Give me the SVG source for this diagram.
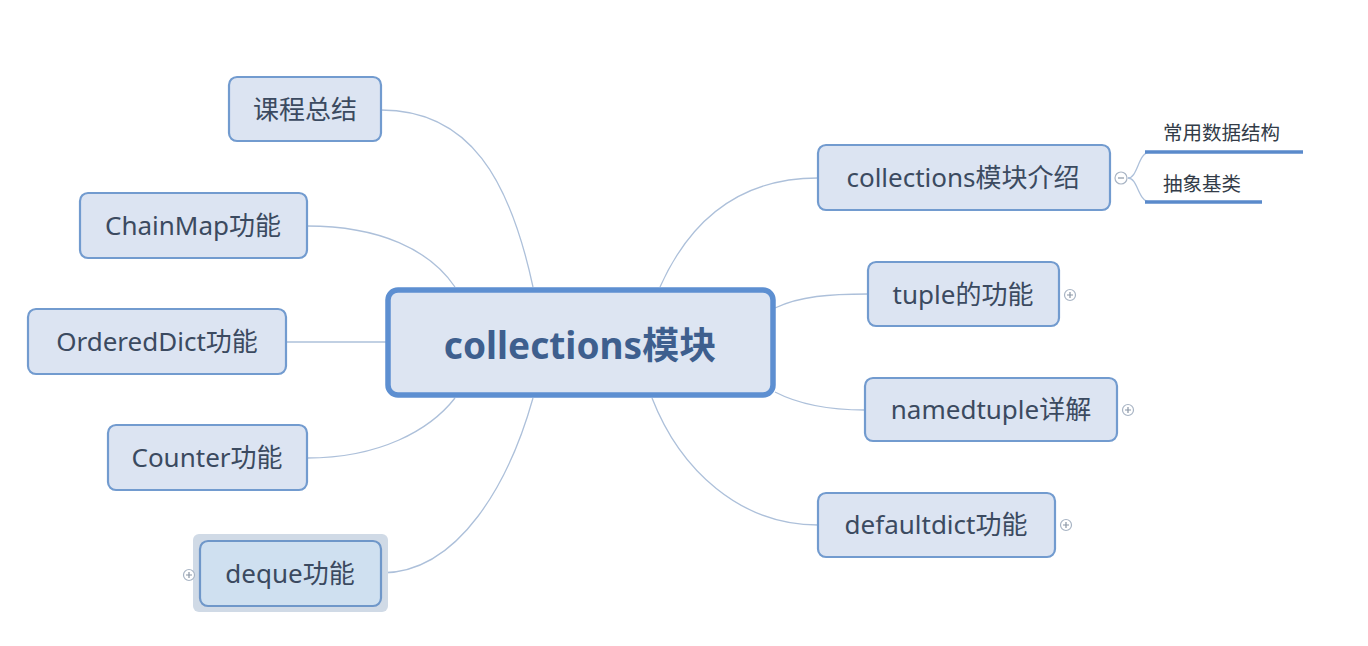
<svg xmlns="http://www.w3.org/2000/svg" width="1368" height="646" viewBox="0 0 1368 646">
<style>
.node{fill:#dce4f2;stroke:#729bcf;stroke-width:2.2}
.t{font-family:"Noto Sans","Noto Sans CJK SC",sans-serif;font-size:26px;fill:#3b4a60;text-anchor:middle;dominant-baseline:central}
.c{fill:none;stroke:#adc0da;stroke-width:1.3}
.tog{fill:#fff;stroke:#a8b4c4;stroke-width:1.2}
.tg{stroke:#8a96a6;stroke-width:1.2}
.sub{font-family:"Noto Sans CJK SC","Noto Sans",sans-serif;font-size:19.5px;fill:#333c48}
.ul{stroke:#5a8acb;stroke-width:3.5}
</style>
<rect width="1368" height="646" fill="#ffffff"/>
<g id="connectors">
<path class="c" d="M381,110 C470,110 510,180 533,287"/>
<path class="c" d="M307,226 C380,226 430,250 455,287"/>
<path class="c" d="M286,342 L387,342"/>
<path class="c" d="M307,458 C380,458 430,430 455,398"/>
<path class="c" d="M381,573 C460,573 510,480 533,398"/>
<path class="c" d="M818,178 C740,178 690,220 660,287"/>
<path class="c" d="M868,294 C830,294 800,296 775,308"/>
<path class="c" d="M865,410 C830,410 800,405 775,392"/>
<path class="c" d="M818,525 C740,525 680,470 652,398"/>
<path class="c" d="M1128,178 C1138,178 1138,152 1150,152"/>
<path class="c" d="M1128,178 C1138,178 1138,202 1150,202"/>
</g>
<g id="center">
<rect x="388" y="290" width="385" height="105" rx="10" fill="#dde5f2" stroke="#5d8fd1" stroke-width="5.5"/>
<text x="580" y="344" class="t" style="font-size:37px;font-weight:bold;fill:#3e5f8e">collections模块</text>
</g>
<g id="n-kczj">
<rect class="node" x="229" y="77" width="152" height="64" rx="8"/>
<text class="t" x="305" y="109">课程总结</text>
</g>
<g id="n-chainmap">
<rect class="node" x="80" y="193" width="227" height="65" rx="8"/>
<text class="t" x="193" y="225">ChainMap功能</text>
</g>
<g id="n-ordereddict">
<rect class="node" x="28" y="309" width="258" height="65" rx="8"/>
<text class="t" x="157" y="341">OrderedDict功能</text>
</g>
<g id="n-counter">
<rect class="node" x="108" y="425" width="199" height="65" rx="8"/>
<text class="t" x="207" y="457">Counter功能</text>
</g>
<g id="n-deque">
<rect x="193" y="534" width="195" height="78" rx="6" fill="#d0dae6" stroke="none"/>
<rect x="200" y="541" width="181" height="65" rx="8" fill="#cfe0f0" stroke="#6f97c9" stroke-width="2.2"/>
<text class="t" x="290" y="573">deque功能</text>
<circle class="tog" cx="189" cy="575" r="5.5"/>
<path class="tg" d="M186,575 H192 M189,572 V578"/>
</g>
<g id="n-intro">
<rect class="node" x="818" y="145" width="292" height="65" rx="8"/>
<text class="t" x="963" y="177">collections模块介绍</text>
<circle class="tog" cx="1121" cy="178" r="6"/>
<path class="tg" d="M1118,178 H1124"/>
</g>
<g id="n-sub1">
<text class="sub" x="1163" y="140">常用数据结构</text>
<line class="ul" x1="1145" y1="152" x2="1303" y2="152"/>
</g>
<g id="n-sub2">
<text class="sub" x="1163" y="191">抽象基类</text>
<line class="ul" x1="1145" y1="202" x2="1262" y2="202"/>
</g>
<g id="n-tuple">
<rect class="node" x="868" y="262" width="191" height="64" rx="8"/>
<text class="t" x="963" y="294">tuple的功能</text>
<circle class="tog" cx="1070" cy="295" r="5.5"/>
<path class="tg" d="M1067,295 H1073 M1070,292 V298"/>
</g>
<g id="n-namedtuple">
<rect class="node" x="865" y="378" width="252" height="63" rx="8"/>
<text class="t" x="991" y="409">namedtuple详解</text>
<circle class="tog" cx="1128" cy="410" r="5.5"/>
<path class="tg" d="M1125,410 H1131 M1128,407 V413"/>
</g>
<g id="n-defaultdict">
<rect class="node" x="818" y="493" width="237" height="64" rx="8"/>
<text class="t" x="936" y="524">defaultdict功能</text>
<circle class="tog" cx="1066" cy="525" r="5.5"/>
<path class="tg" d="M1063,525 H1069 M1066,522 V528"/>
</g>
</svg>
